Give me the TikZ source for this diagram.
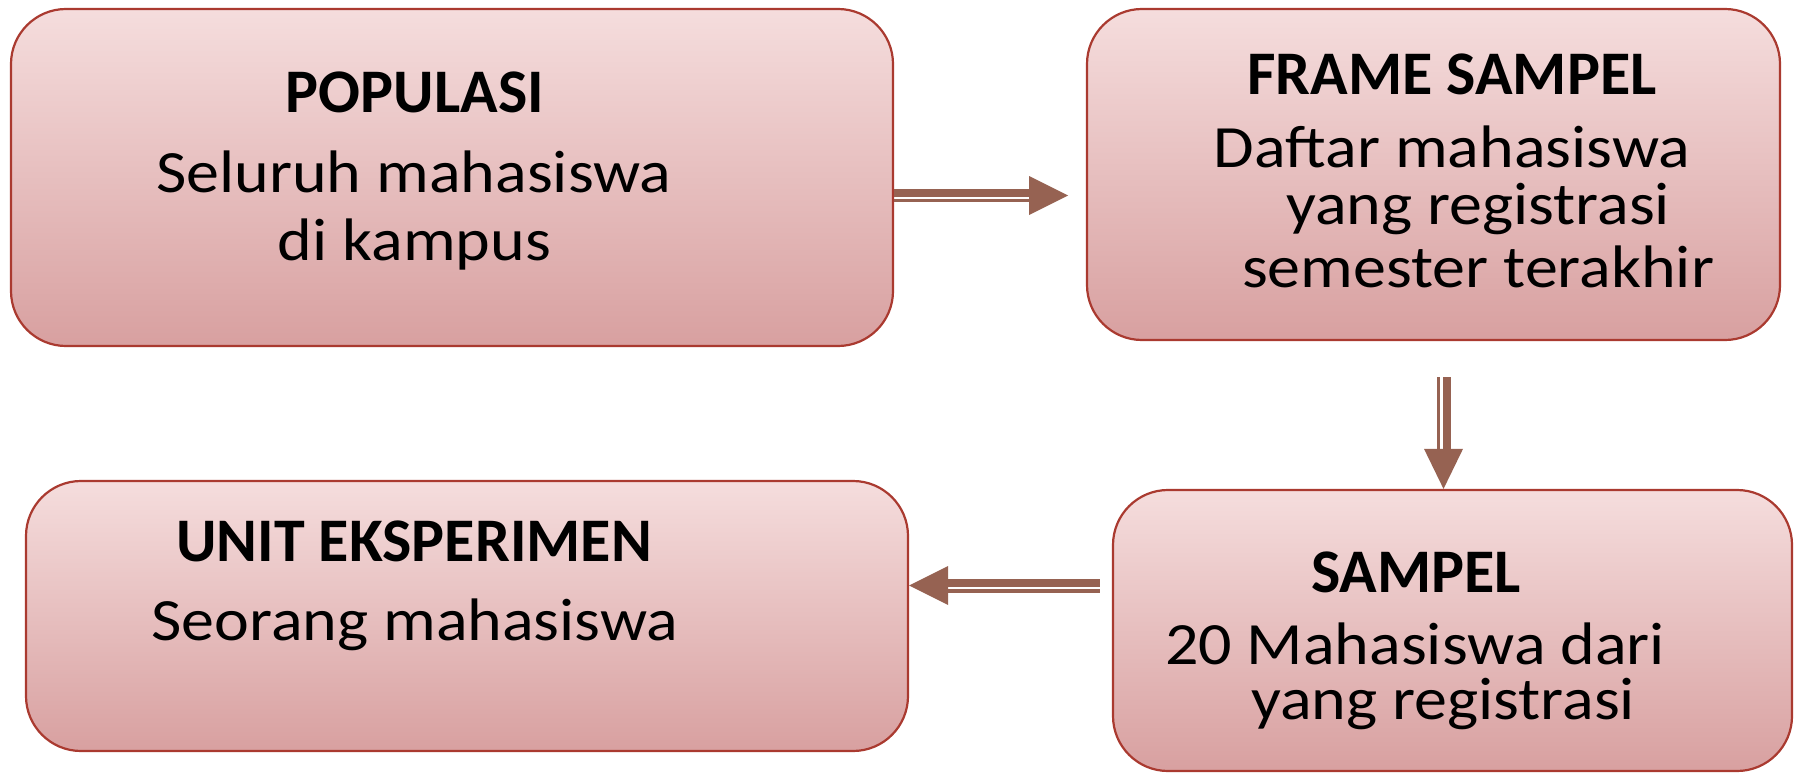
\documentclass[tikz,border=0pt]{standalone}
\usepackage{fontspec}
\usetikzlibrary{calc}
\newfontfamily\headfont{Carlito}
\newfontfamily\bodyfont[FakeStretch=1.10]{Carlito}
\definecolor{boxtop}{RGB}{245,221,221}
\definecolor{boxbot}{RGB}{216,160,160}
\definecolor{boxline}{RGB}{170,58,48}
\definecolor{arrcol}{RGB}{150,98,82}
\tikzset{
  box/.style={draw=boxline, line width=2.2pt, rounded corners=55pt, top color=boxtop, bottom color=boxbot, inner sep=0pt},
  head/.style={anchor=base, inner sep=0pt, font=\headfont\bfseries\fontsize{62}{70}\selectfont},
  body/.style={anchor=base, inner sep=0pt, font=\bodyfont\fontsize{60}{68}\selectfont},
  arr/.style={fill=arrcol}
}
\begin{document}
\begin{tikzpicture}[x=1pt,y=-1pt]
\useasboundingbox (0,0) rectangle (1795,773);
% boxes
\node[box, minimum width=882pt, minimum height=337pt] (pop) at (452,177.5) {};
\node[box, minimum width=693pt, minimum height=331pt] (frame) at (1433.5,174.5) {};
\node[box, minimum width=882pt, minimum height=270pt] (unit) at (467,616) {};
\node[box, minimum width=679pt, minimum height=281pt] (samp) at (1452.5,630.5) {};
% texts
\node[head] (t1a) at (415,113) {POPULASI};
\node[body] (t1b) at (414,192) {Seluruh mahasiswa};
\node[body] (t1c) at (414.5,260) {di kampus};
\node[head] (t2a) at (1452,95) {FRAME SAMPEL};
\node[body] (t2b) at (1452,167) {Daftar mahasiswa};
\node[body] (t2c) at (1478,224) {yang registrasi};
\node[body] (t2d) at (1478,287) {semester terakhir};
\node[head] (t3a) at (414,561) {UNIT EKSPERIMEN};
\node[body] (t3b) at (415,640) {Seorang mahasiswa};
\node[head] (t4a) at (1416,592) {SAMPEL};
\node[body] (t4b) at (1415,664) {20 Mahasiswa dari};
\node[body] (t4c) at (1443,719) {yang registrasi};
% arrow 1: POPULASI -> FRAME SAMPEL
\coordinate (a1s) at (pop.east |- 0,195.5);
\coordinate (a1e) at (1068,195.5);
\fill[arr] ($(a1s)+(0,-6.5)$) rectangle ($(a1e)+(-39,1.5)$);
\fill[arr] ($(a1s)+(0,3.5)$) rectangle ($(a1e)+(-39,6.5)$);
\fill[arr] ($(a1e)+(-39,-19.5)$) -- (a1e) -- ($(a1e)+(-39,19.5)$) -- cycle;
% arrow 2: FRAME SAMPEL -> SAMPEL
\coordinate (a2s) at (1443.5,377);
\coordinate (a2e) at (samp.north -| 1443.5,0);
\fill[arr] ($(a2s)+(-6.5,0)$) rectangle ($(a2e)+(-3.5,-40)$);
\fill[arr] ($(a2s)+(-1,0)$) rectangle ($(a2e)+(7,-40)$);
\fill[arr] ($(a2e)+(-19.5,-40)$) -- (a2e) -- ($(a2e)+(19.5,-40)$) -- cycle;
% arrow 3: SAMPEL -> UNIT EKSPERIMEN
\coordinate (a3s) at (1100,585.5);
\coordinate (a3e) at (unit.east |- 0,585.5);
\fill[arr] ($(a3s)+(0,-6.5)$) rectangle ($(a3e)+(39,1.5)$);
\fill[arr] ($(a3s)+(0,3.5)$) rectangle ($(a3e)+(39,7.5)$);
\fill[arr] ($(a3e)+(39,-19.5)$) -- (a3e) -- ($(a3e)+(39,19.5)$) -- cycle;
\end{tikzpicture}
\end{document}
